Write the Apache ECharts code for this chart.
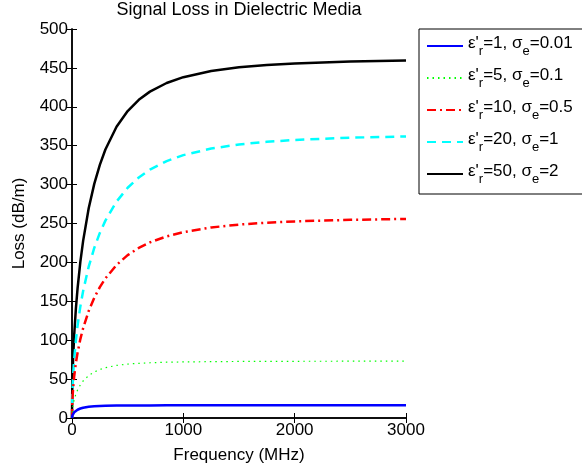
<!DOCTYPE html>
<html>
<head>
<meta charset="utf-8">
<script src="https://cdn.jsdelivr.net/npm/echarts@6/dist/echarts.min.js"></script>
<style>
  html, body { margin: 0; padding: 0; background: #fff; }
  #chart { width: 582px; height: 469px; }
</style>
</head>
<body>
<div id="chart"></div>
<script>
// frequency samples (MHz) and loss values (dB/m)
const freq = [0, 2, 5, 10, 20, 35, 50, 75, 100, 150, 200, 250, 300, 400, 500, 600, 700, 850, 1000, 1250, 1500, 1750, 2000, 2500, 3000];

const loss1 = [0, 2.4, 3.8, 5.3, 7.3, 9.3, 10.6, 12.2, 13.2, 14.5, 15.1, 15.5, 15.7, 16.0, 16.1, 16.2, 16.2, 16.3, 16.3, 16.3, 16.3, 16.3, 16.3, 16.4, 16.4];
const loss2 = [0, 7.7, 12.1, 17.0, 23.7, 30.8, 36.0, 42.6, 47.6, 54.6, 59.2, 62.4, 64.7, 67.6, 69.3, 70.3, 71.0, 71.7, 72.1, 72.4, 72.7, 72.8, 72.9, 73.0, 73.0];
const loss3 = [0, 17.2, 27.2, 38.4, 54.0, 70.8, 83.9, 101.4, 115.4, 137.6, 154.6, 168.2, 179.4, 196.7, 209.3, 218.6, 225.7, 233.5, 238.9, 244.9, 248.6, 251.0, 252.7, 254.7, 255.9];
const loss4 = [0, 24.4, 38.5, 54.3, 76.3, 100.1, 118.7, 143.4, 163.3, 194.5, 218.6, 237.9, 253.7, 278.2, 295.9, 309.1, 319.2, 330.2, 337.9, 346.3, 351.6, 355.0, 357.3, 360.3, 361.9];
const loss5 = [0, 34.5, 54.4, 76.7, 107.7, 140.9, 166.7, 200.7, 227.7, 269.5, 300.9, 325.4, 345.1, 374.3, 394.5, 409.0, 419.5, 430.6, 438.1, 446.0, 450.7, 453.7, 455.7, 458.2, 459.5];

const seriesNames = ['s1', 's2', 's3', 's4', 's5'];
const epsR = ['1', '5', '10', '20', '50'];
const sigmaE = ['0.01', '0.1', '0.5', '1', '2'];

const colors = ['#0000ff', '#00ff00', '#ff0000', '#00ffff', '#000000'];
const widths = [2.5, 1.2, 2.5, 2.5, 2.5];
const dashes = ['solid', [1.5, 4], [9, 4, 2, 4], [9, 6], 'solid'];

const allLoss = [loss1, loss2, loss3, loss4, loss5];

const font = 'Liberation Sans, Arial, Helvetica, sans-serif';

const chart = echarts.init(document.getElementById('chart'));

const series = allLoss.map((vals, i) => ({
  name: seriesNames[i],
  type: 'line',
  data: freq.map((f, j) => [f, vals[j]]),
  showSymbol: false,
  symbol: 'none',
  smooth: false,
  lineStyle: { color: colors[i], width: widths[i], type: dashes[i] },
  itemStyle: { color: colors[i] },
  z: 10 - i
}));

const tickStyle = { show: true, inside: true, length: 5, lineStyle: { color: '#000', width: 1 } };
const lineStyle = { show: true, lineStyle: { color: '#000', width: 1.5 } };

chart.setOption({
  animation: false,
  backgroundColor: '#fff',
  textStyle: { fontFamily: font },
  title: {
    text: 'Signal Loss in Dielectric Media',
    left: 239,
    textAlign: 'center',
    top: 1,
    padding: 0,
    textStyle: { fontSize: 18, fontWeight: 'normal', color: '#000', fontFamily: font }
  },
  grid: { left: 72, right: 176, top: 29, bottom: 50, containLabel: false },
  legend: {
    orient: 'vertical',
    left: 419,
    top: 29,
    padding: [6, 10, 8, 7],
    itemGap: 9,
    itemWidth: 36,
    itemHeight: 21,
    borderColor: '#000',
    borderWidth: 1,
    backgroundColor: '#fff',
    itemStyle: { color: 'rgba(0,0,0,0)', borderWidth: 0, opacity: 0 },
    data: seriesNames,
    formatter: name => {
      const i = seriesNames.indexOf(name);
      return '{a|ε\'}{s|r}{a|=' + epsR[i] + ', σ}{s|e}{a|=' + sigmaE[i] + '}';
    },
    textStyle: {
      color: '#000',
      fontFamily: font,
      rich: {
        a: { fontSize: 17, fontFamily: font, color: '#000', lineHeight: 22, verticalAlign: 'top' },
        s: { fontSize: 13, fontFamily: font, color: '#000', lineHeight: 22, verticalAlign: 'top', padding: [10, 0, 0, 0] }
      }
    }
  },
  xAxis: [{
    type: 'value',
    min: 0, max: 3000, interval: 1000,
    name: 'Frequency (MHz)',
    nameLocation: 'middle',
    nameGap: 29,
    nameTextStyle: { fontSize: 17, color: '#000', fontFamily: font },
    axisLine: lineStyle,
    axisTick: tickStyle,
    splitLine: { show: false },
    axisLabel: { fontSize: 17, color: '#000', margin: 4, fontFamily: font, formatter: v => String(v) }
  }, {
    type: 'value',
    position: 'top',
    min: 0, max: 3000, interval: 1000,
    axisLine: lineStyle,
    axisTick: tickStyle,
    splitLine: { show: false },
    axisLabel: { show: false }
  }],
  yAxis: [{
    type: 'value',
    min: 0, max: 500, interval: 50,
    name: 'Loss (dB/m)',
    nameLocation: 'middle',
    nameGap: 44,
    nameTextStyle: { fontSize: 17, color: '#000', fontFamily: font },
    axisLine: lineStyle,
    axisTick: tickStyle,
    splitLine: { show: false },
    axisLabel: { fontSize: 17, color: '#000', margin: 4, fontFamily: font, formatter: v => String(v) }
  }, {
    type: 'value',
    position: 'right',
    min: 0, max: 500, interval: 50,
    axisLine: lineStyle,
    axisTick: tickStyle,
    splitLine: { show: false },
    axisLabel: { show: false }
  }],
  series: series
});
</script>
</body>
</html>
